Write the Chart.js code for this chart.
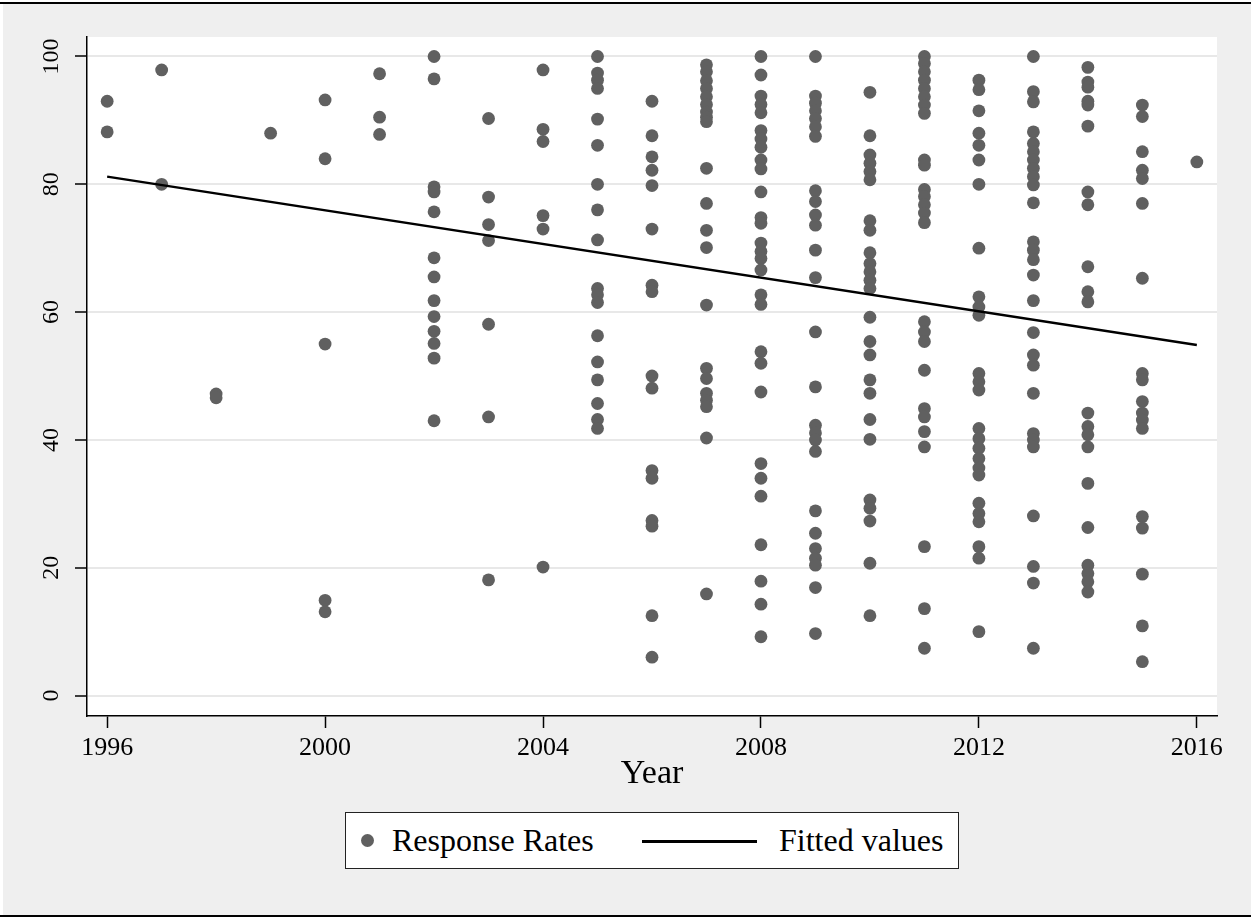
<!DOCTYPE html>
<html>
<head>
<meta charset="utf-8">
<script src="https://cdn.jsdelivr.net/npm/chart.js@4/dist/chart.umd.min.js"></script>
<style>
  body { margin: 0; background: #fff; }
  #wrap { position: relative; width: 1251px; height: 919px; }
  #legend {
    position: absolute; left: 345px; top: 812px; width: 612px; height: 55px;
    border: 1px solid #222; background: #fff;
    font-family: "Liberation Serif", "Times New Roman", serif; font-size: 32px; color: #000;
  }
  #legend span { position: absolute; }
  .dot { left: 15px; top: 21px; width: 13px; height: 13px; border-radius: 50%; background: #606060; }
  .ln { left: 296px; top: 27px; width: 115px; height: 2.5px; background: #000; }
  .t1 { left: 46px; top: 9px; }
  .t2 { left: 433px; top: 9px; }
</style>
</head>
<body>
<div id="wrap">
  <canvas id="chart" width="1251" height="919"></canvas>
  <div id="legend">
    <span class="dot"></span><span class="t1">Response Rates</span>
    <span class="ln"></span><span class="t2">Fitted values</span>
  </div>
</div>
<script>
  // data
  let years = [1996, 1997, 1998, 1999, 2000, 2001, 2002, 2003, 2004, 2005,
               2006, 2007, 2008, 2009, 2010, 2011, 2012, 2013, 2014, 2015, 2016];
  let ratesByYear = [
    [93.0, 88.2],
    [97.9, 80.0],
    [47.2, 46.6],
    [88.0],
    [93.2, 84.0, 55.0, 14.9, 13.1],
    [97.3, 90.5, 87.8],
    [100, 96.5, 79.6, 78.8, 75.7, 68.5, 65.5, 61.8, 59.3, 57.0, 55.1, 52.8, 43.0],
    [90.3, 78.0, 73.7, 71.2, 58.1, 43.6, 18.1],
    [97.9, 88.6, 86.7, 75.1, 73.0, 20.1],
    [100, 97.4, 96.3, 95.0, 90.2, 86.1, 80.0, 76.0, 71.3, 63.7, 62.7, 61.5, 56.3, 52.2, 49.4, 45.7, 43.2, 41.8],
    [93.0, 87.6, 84.3, 82.2, 79.8, 73.0, 64.2, 63.2, 50.0, 48.1, 35.2, 34.0, 27.4, 26.5, 12.5, 6.0],
    [98.7, 97.6, 96.2, 95.0, 93.7, 92.5, 91.3, 90.5, 89.8, 82.5, 77.0, 72.8, 70.1, 61.1, 51.2, 49.6, 47.3, 46.2, 45.2, 40.3, 15.9],
    [100, 97.1, 93.8, 92.5, 91.2, 88.4, 87.1, 85.8, 83.8, 82.4, 78.8, 74.8, 73.9, 70.8, 69.5, 68.4, 66.6, 62.7, 61.2, 53.8, 52.0, 47.5, 36.3, 34.0, 31.2, 23.6, 17.9, 14.3, 9.2],
    [100, 93.8, 92.7, 91.5, 90.3, 89.0, 87.5, 79.0, 77.3, 75.2, 73.6, 69.7, 65.4, 56.9, 48.3, 42.3, 41.1, 40.0, 38.2, 28.9, 25.4, 23.0, 21.5, 20.4, 16.9, 9.7],
    [94.4, 87.6, 84.6, 83.3, 82.0, 80.7, 74.3, 72.8, 69.3, 67.6, 66.3, 65.0, 63.7, 59.2, 55.4, 53.3, 49.4, 47.3, 43.2, 40.1, 30.6, 29.3, 27.3, 20.7, 12.5],
    [100, 98.9, 97.6, 96.3, 95.0, 93.7, 92.4, 91.1, 83.8, 83.0, 79.2, 78.1, 76.8, 75.5, 74.0, 58.5, 56.9, 55.4, 50.9, 44.9, 43.6, 41.3, 38.9, 23.3, 13.6, 7.4],
    [96.3, 94.8, 91.5, 88.0, 86.1, 83.8, 80.0, 70.0, 62.4, 60.8, 59.5, 50.4, 49.1, 47.8, 41.8, 40.2, 38.7, 37.1, 35.6, 34.5, 30.1, 28.5, 27.2, 23.3, 21.5, 10.0],
    [100, 94.5, 92.9, 88.2, 86.4, 85.1, 83.8, 82.5, 81.2, 79.9, 77.1, 71.0, 69.7, 68.2, 65.8, 61.8, 56.8, 53.3, 51.7, 47.3, 41.0, 40.0, 38.9, 28.1, 20.2, 17.6, 7.4],
    [98.3, 96.0, 95.2, 93.0, 92.4, 89.1, 78.8, 76.8, 67.1, 63.2, 61.6, 44.2, 42.1, 40.8, 38.9, 33.2, 26.3, 20.4, 19.1, 17.8, 16.2],
    [92.4, 90.6, 85.1, 82.2, 80.9, 77.0, 65.3, 50.4, 49.4, 46.0, 44.2, 43.1, 41.8, 28.0, 26.2, 19.0, 10.9, 5.3],
    [83.5]
  ];
  let fitYears = [1996, 2016];
  let fitValues = [81.2, 54.85];
  let xTicks = [1996, 2000, 2004, 2008, 2012, 2016];
  let yTicks = [0, 20, 40, 60, 80, 100];

  let points = [];
  years.forEach((yr, i) => ratesByYear[i].forEach(v => points.push({x: yr, y: v})));
  let fitted = fitYears.map((yr, i) => ({x: yr, y: fitValues[i]}));

  let serif = "'Liberation Serif', 'Times New Roman', serif";

  // grey page, frame lines and white plot region
  let backdrop = {
    id: 'backdrop',
    beforeDraw(chart) {
      let c = chart.ctx, a = chart.chartArea;
      c.save();
      c.fillStyle = '#fff';
      c.fillRect(0, 0, chart.width, chart.height);
      c.fillStyle = '#efefef';
      c.fillRect(3, 4, chart.width - 3, 911);
      c.fillStyle = '#000';
      c.fillRect(0, 2, chart.width, 2);
      c.fillRect(0, 915, chart.width, 2);
      c.fillStyle = '#fff';
      c.fillRect(a.left, a.top, a.right - a.left, a.bottom - a.top);
      c.restore();
    }
  };

  let ctx = document.getElementById('chart').getContext('2d');
  let chart = new Chart(ctx, {
    data: {
      datasets: [{
        type: 'line',
        label: 'Fitted values',
        data: fitted,
        borderColor: '#000',
        borderWidth: 2.5,
        pointRadius: 0,
        fill: false,
        order: 0
      }, {
        type: 'scatter',
        label: 'Response Rates',
        data: points,
        backgroundColor: '#606060',
        borderWidth: 0,
        pointRadius: 6.4,
        order: 1
      }]
    },
    options: {
      responsive: false,
      animation: false,
      layout: { padding: { left: 0, top: 37, right: 34, bottom: 123 } },
      plugins: { legend: { display: false }, tooltip: { enabled: false } },
      scales: {
        x: {
          type: 'linear',
          min: 1995.63,
          max: 2016.37,
          afterBuildTicks: s => { s.ticks = xTicks.map(v => ({value: v})); },
          afterFit: s => { s.height = 80; },
          grid: { drawOnChartArea: false, tickLength: 12, tickColor: '#000', tickWidth: 1.5 },
          border: { color: '#000', width: 1.5 },
          ticks: {
            callback: v => String(v),
            color: '#000', padding: 5, maxRotation: 0, autoSkip: false,
            font: { family: serif, size: 26 }
          },
          title: {
            display: true, text: 'Year', color: '#000',
            padding: { top: 0, bottom: 2 },
            font: { family: serif, size: 34 }
          }
        },
        y: {
          type: 'linear',
          min: -3.2,
          max: 103.05,
          afterBuildTicks: s => { s.ticks = yTicks.map(v => ({value: v})); },
          afterFit: s => { s.width = 87; },
          grid: { color: '#e8e8e8', lineWidth: 2, tickLength: 12, tickColor: '#000', tickWidth: 1.5 },
          border: { color: '#000', width: 1.5 },
          ticks: {
            callback: v => String(v),
            color: '#000', padding: 5, minRotation: 90, maxRotation: 90,
            crossAlign: 'center', autoSkip: false,
            font: { family: serif, size: 24 }
          }
        }
      }
    },
    plugins: [backdrop]
  });
</script>
</body>
</html>
